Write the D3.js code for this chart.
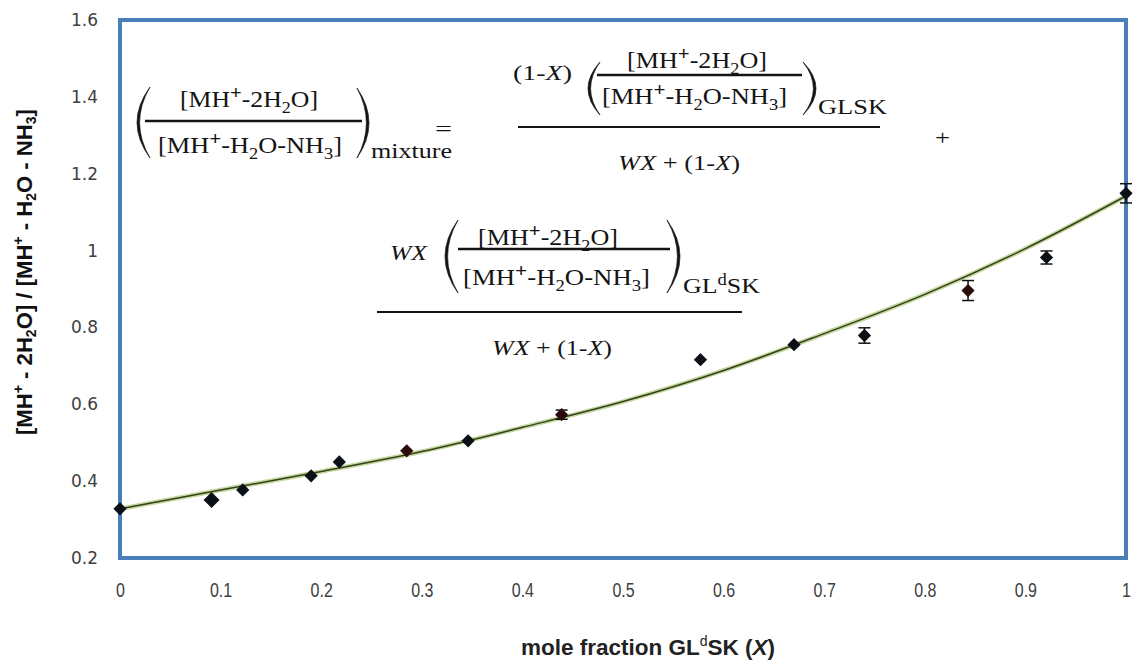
<!DOCTYPE html>
<html>
<head>
<meta charset="utf-8">
<script src="https://cdn.jsdelivr.net/npm/d3@7"></script>
<style>
  html, body { margin: 0; padding: 0; background: #fff; }
  svg { display: block; }
</style>
</head>
<body>
<svg id="chart" width="1136" height="662"></svg>
<script>
// Measured ratio vs. mole fraction of GL^dSK in the mixture
const moleFraction = [0, 0.091, 0.122, 0.190, 0.218, 0.285, 0.346, 0.439, 0.577, 0.670, 0.740, 0.843, 0.921, 1.0];
const ionRatio     = [0.328, 0.351, 0.377, 0.414, 0.450, 0.479, 0.505, 0.573, 0.716, 0.755, 0.779, 0.896, 0.982, 1.149];
const ratioError   = [0, 0, 0, 0, 0, 0, 0, 0.012, 0, 0, 0.020, 0.026, 0.017, 0.025];
const markerTone   = ["k", "k", "k", "k", "k", "r", "k", "r", "k", "k", "k", "r", "k", "k"];
const markerBig    = [false, true, false, false, false, false, false, false, false, false, false, false, false, false];

// Fitted model curve (mixture equation), sampled along X
const fitX = [0, 0.1, 0.2, 0.3, 0.4, 0.5, 0.6, 0.7, 0.8, 0.9, 1.0];
const fitY = [0.328, 0.377, 0.425, 0.477, 0.540, 0.607, 0.688, 0.784, 0.886, 1.005, 1.142];

// Axis ticks
const xTicks = [0, 0.1, 0.2, 0.3, 0.4, 0.5, 0.6, 0.7, 0.8, 0.9, 1];
const yTicks = [0.2, 0.4, 0.6, 0.8, 1.0, 1.2, 1.4, 1.6];

const svg = d3.select("#chart");
const x = d3.scaleLinear().domain([0, 1]).range([120, 1126]);
const y = d3.scaleLinear().domain([0.2, 1.6]).range([558, 20]);

const sans = "'Liberation Sans',Arial,sans-serif";
const serif = "'Liberation Serif','Times New Roman',serif";

// squeeze a text element horizontally to a fraction of its natural width
function condense(sel, k) {
  sel.each(function () {
    const w = this.getComputedTextLength();
    d3.select(this).attr("textLength", w * k).attr("lengthAdjust", "spacingAndGlyphs");
  });
}

// ---- axes ----
const yAxis = svg.append("g")
  .attr("transform", `translate(${x(0)},0)`)
  .call(d3.axisLeft(y).tickValues(yTicks).tickSize(0).tickPadding(22)
    .tickFormat(d => String(+d.toFixed(1))));
yAxis.select(".domain").remove();
yAxis.selectAll("text")
  .attr("font-family", "'DejaVu Sans',Verdana,sans-serif")
  .attr("font-size", 17)
  .attr("fill", "#404040");

const xAxis = svg.append("g")
  .attr("transform", `translate(0,${y(0.2)})`)
  .call(d3.axisBottom(x).tickValues(xTicks).tickSize(0).tickPadding(25)
    .tickFormat(d => String(+d.toFixed(1))));
xAxis.select(".domain").remove();
xAxis.selectAll("text")
  .attr("font-family", sans)
  .attr("font-size", 20)
  .attr("fill", "#404040")
  .call(condense, 0.8);

// ---- axis titles ----
const xt = svg.append("text")
  .attr("x", 648).attr("y", 655)
  .attr("text-anchor", "middle")
  .attr("font-family", sans)
  .attr("font-weight", "bold")
  .attr("font-size", 22.5)
  .attr("fill", "#222");
xt.append("tspan").text("mole fraction GL");
xt.append("tspan").attr("font-size", 14).attr("font-weight", "normal").attr("dy", -9).text("d");
xt.append("tspan").attr("dy", 9).text("SK (");
xt.append("tspan").attr("font-style", "italic").text("X");
xt.append("tspan").text(")");

const yt = svg.append("text")
  .attr("transform", "translate(32,272) rotate(-90)")
  .attr("text-anchor", "middle")
  .attr("font-family", sans)
  .attr("font-weight", "bold")
  .attr("font-size", 22)
  .attr("fill", "#111");
yt.append("tspan").text("[MH");
yt.append("tspan").attr("font-size", 14).attr("dy", -9).text("+");
yt.append("tspan").attr("dy", 9).text(" - 2H");
yt.append("tspan").attr("font-size", 14).attr("dy", 4).text("2");
yt.append("tspan").attr("dy", -4).text("O] / [MH");
yt.append("tspan").attr("font-size", 14).attr("dy", -9).text("+");
yt.append("tspan").attr("dy", 9).text(" - H");
yt.append("tspan").attr("font-size", 14).attr("dy", 4).text("2");
yt.append("tspan").attr("dy", -4).text("O - NH");
yt.append("tspan").attr("font-size", 14).attr("dy", 4).text("3");
yt.append("tspan").attr("dy", -4).text("]");
yt.attr("textLength", 326).attr("lengthAdjust", "spacingAndGlyphs");

// ---- fitted curve ----
const fitPts = fitX.map((v, i) => [v, fitY[i]]);
const line = d3.line().x(d => x(d[0])).y(d => y(d[1])).curve(d3.curveMonotoneX);
svg.append("path").datum(fitPts).attr("d", line)
  .attr("fill", "none").attr("stroke", "#c4d99c").attr("stroke-width", 4.5);
svg.append("path").datum(fitPts).attr("d", line)
  .attr("fill", "none").attr("stroke", "#34401f").attr("stroke-width", 1.5);

// ---- plot frame ----
svg.append("rect")
  .attr("x", x(0)).attr("y", y(1.6))
  .attr("width", x(1) - x(0)).attr("height", y(0.2) - y(1.6))
  .attr("fill", "none").attr("stroke", "#4a7ebb").attr("stroke-width", 4);

// ---- error bars ----
const pts = moleFraction.map((v, i) => ({ x: v, y: ionRatio[i], e: ratioError[i], tone: markerTone[i], big: markerBig[i] }));
const eb = svg.append("g").attr("stroke", "#111").attr("stroke-width", 1.5);
pts.filter(d => d.e > 0).forEach(d => {
  const cx = x(d.x), y0 = y(d.y - d.e), y1 = y(d.y + d.e);
  eb.append("line").attr("x1", cx).attr("x2", cx).attr("y1", y0).attr("y2", y1);
  eb.append("line").attr("x1", cx - 6).attr("x2", cx + 6).attr("y1", y0).attr("y2", y0);
  eb.append("line").attr("x1", cx - 6).attr("x2", cx + 6).attr("y1", y1).attr("y2", y1);
});

// ---- diamond markers ----
svg.append("g").selectAll("path").data(pts).join("path")
  .attr("d", d => d3.symbol(d3.symbolSquare, d.big ? 128 : 88)())
  .attr("transform", d => `translate(${x(d.x)},${y(d.y)}) rotate(45)`)
  .attr("fill", d => d.tone === "r" ? "#2a0d0b" : "#0b0f16");

// ---- equation annotation ----
const eq = svg.append("g").attr("font-family", serif).attr("fill", "#141414");

// text run: parts are [string, style] with style "", "i", "sub", "sup", "plus"
function mathText(parts, x0, base, width, size) {
  const t = eq.append("text").attr("x", x0).attr("y", base).attr("font-size", size);
  let shift = 0;
  parts.forEach(([s, st]) => {
    let target = 0;
    if (st === "sub") target = size * 0.28;
    if (st === "sup" || st === "plus") target = -size * 0.36;
    const ts = t.append("tspan").attr("dy", target - shift).text(s);
    shift = target;
    if (st === "sub") ts.attr("font-size", size * 0.7);
    if (st === "sup") ts.attr("font-size", size * 0.72);
    if (st === "plus") ts.attr("font-size", size * 0.8).attr("font-weight", "bold");
    if (st === "i") ts.attr("font-style", "italic");
  });
  if (width) t.attr("textLength", width).attr("lengthAdjust", "spacingAndGlyphs");
  return t;
}
function bar(x0, x1, yy, w) {
  eq.append("line").attr("x1", x0).attr("x2", x1).attr("y1", yy).attr("y2", yy)
    .attr("stroke", "#141414").attr("stroke-width", w);
}
// parenthesis as a crescent; dir = 1 for "(", -1 for ")"
function paren(xEnd, xMid, top, bottom, dir) {
  const mid = (top + bottom) / 2, th = 2.6 * dir;
  const c1 = 2 * xMid - xEnd, c2 = 2 * (xMid + th) - xEnd;
  eq.append("path")
    .attr("d", `M${xEnd},${top} Q${c1},${mid} ${xEnd},${bottom} Q${c2},${mid} ${xEnd},${top} Z`)
    .attr("fill", "#141414").attr("stroke", "#141414").attr("stroke-width", 0.7);
}

const NUM = [["[MH", ""], ["+", "plus"], ["-2H", ""], ["2", "sub"], ["O]", ""]];
const DEN = [["[MH", ""], ["+", "plus"], ["-H", ""], ["2", "sub"], ["O-NH", ""], ["3", "sub"], ["]", ""]];
const WSUM = [["WX", "i"], [" + (1-", ""], ["X", "i"], [")", ""]];

// left side: (ratio)_mixture =
paren(150, 137, 87, 158, 1);
mathText(NUM, 180, 107, 138, 23);
bar(145, 362, 121, 2.6);
mathText(DEN, 158, 153, 184, 23);
paren(357, 369, 88, 158, -1);
mathText([["mixture", ""]], 371, 158, 81, 22);
mathText([["=", ""]], 435, 136, 17, 20);

// first term: (1-X)(ratio)_GLSK / (WX + (1-X))
mathText([["(1-", ""], ["X", "i"], [")", ""]], 513, 80, 59, 22);
paren(600, 588, 62, 115, 1);
mathText(NUM, 627, 68, 140, 23);
bar(597, 802, 75, 2.4);
mathText(DEN, 602, 104, 185, 23);
paren(803, 816, 62, 115, -1);
mathText([["GLSK", ""]], 818, 114, 69, 22);
bar(518, 880, 127, 2);
mathText(WSUM, 618, 170, 122, 22);
mathText([["+", ""]], 935, 145, 15, 22);

// second term: WX(ratio)_GLdSK / (WX + (1-X))
mathText([["WX", "i"]], 390, 260, 37, 22);
paren(458, 445, 220, 293, 1);
mathText(NUM, 478, 245, 140, 23);
bar(458, 670, 249, 2.6);
mathText(DEN, 463, 285, 187, 23);
paren(667, 680, 220, 293, -1);
mathText([["GL", ""], ["d", "sup"], ["SK", ""]], 683, 293, 77, 22);
bar(377, 742, 312, 2);
mathText(WSUM, 492, 355, 120, 22);
</script>
</body>
</html>
